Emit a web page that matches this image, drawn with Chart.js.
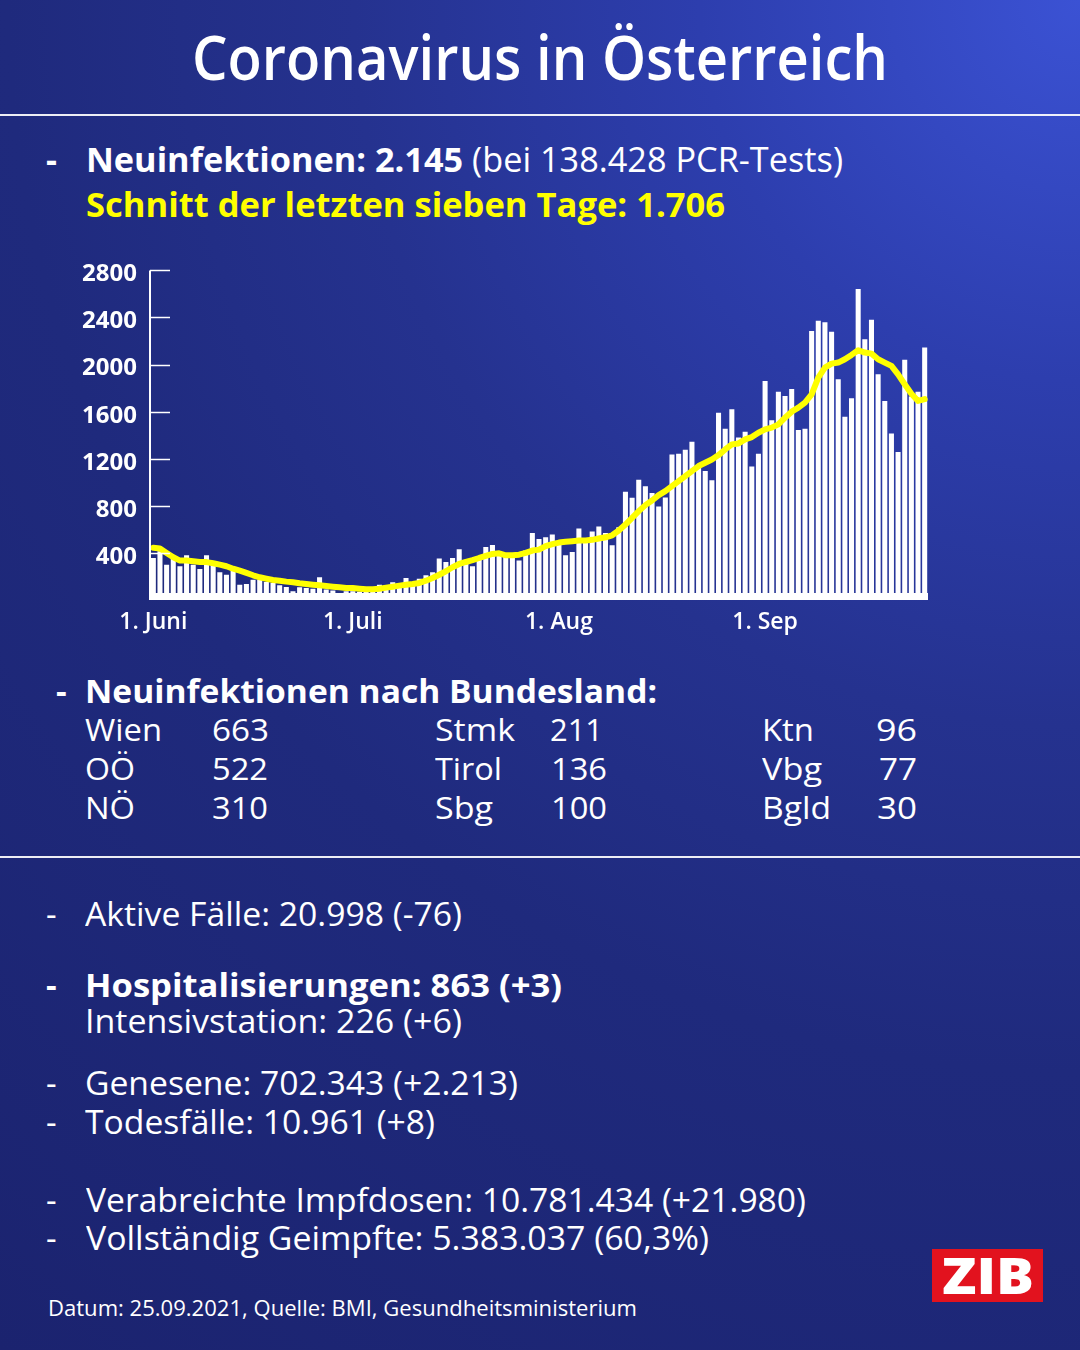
<!DOCTYPE html>
<html><head><meta charset="utf-8">
<script src="https://cdn.jsdelivr.net/npm/chart.js@4.4.1/dist/chart.umd.min.js"></script>
<style>
html,body{margin:0;padding:0;}
body{width:1080px;height:1350px;overflow:hidden;position:relative;
background:radial-gradient(circle farthest-corner at 100% 0%,#3b52d4 0%,#2d3eae 22%,#25328f 42%,#1f2a7d 62%,#1b236f 100%);
font-family:'Open Sans',sans-serif;color:#fff;}
.t{position:absolute;white-space:nowrap;transform-origin:0 0;line-height:1;}
.hr{position:absolute;left:0;width:1080px;height:2px;background:rgba(255,255,255,0.92);}
#chartBox{position:absolute;left:60px;top:243px;width:880px;height:397px;}
#zib{position:absolute;left:932px;top:1249px;width:111px;height:53px;background:#e2121e;}
</style></head>
<body>
<div class="hr" style="top:114px"></div>
<div class="hr" style="top:856px"></div>
<div id="chartBox"><canvas id="c" width="880" height="397"></canvas></div>
<div id="zib"></div>
<div id="texts"></div>
<script>
// ---- data ----
const monthNames = ['Juni','Juli','Aug','Sep'];
const monthDays = [30,31,31,25];
const tickLabels = ['1. Juni','1. Juli','1. Aug','1. Sep'];
const yTicks = [400,800,1200,1600,2000,2400,2800];
const newCases = [
 357,414,300,349,287,380,300,264,380,300,236,215,258,130,136,173,173,153,145,125,111,74,108,102,96,193,89,80,45,75,75,
 70,80,95,130,110,150,140,
 187,150,181,210,236,352,323,357,431,320,287,343,451,468,380,380,357,335,420,570,519,533,556,
 485,380,408,607,500,581,624,570,465,618,919,868,1021,967,908,794,870,1237,1242,1277,1345,1140,1095,1018,1591,1455,1620,1380,
 1430,1135,1242,1861,1526,1770,1733,1793,1444,1455,2286,2372,2360,2278,1875,1557,1713,2641,2215,2380,1917,1691,1415,1257,2040,1728,1770,2145
];
const avg7 = [
 443,437,400,363,335,335,329,323,322,312,300,287,266,249,230,210,193,181,170,164,156,150,142,136,130,125,119,113,108,102,102,
 96,91,91,96,105,113,122,130,136,145,164,187,215,244,278,306,323,338,357,374,391,397,380,380,385,400,420,428,457,475,488,495,
 500,505,505,511,522,533,550,590,641,698,755,806,845,891,925,968,1010,1053,1095,1138,1166,1194,1231,1279,1322,1330,
 1364,1384,1421,1449,1464,1492,1549,1600,1634,1677,1747,1889,1974,2008,2017,2045,2082,2122,2102,2093,2045,2017,1989,1917,1832,1753,1691,1706
];

// category labels (one per day)
const days = [];
monthNames.forEach((m,mi)=>{ for(let d=1; d<=monthDays[mi]; d++) days.push(d+'. '+m); });

const axisPlugin = {
  id:'axisDeco',
  beforeDatasetsDraw(chart){
    const {ctx, chartArea:a} = chart;
    ctx.save(); ctx.fillStyle='#ffffff';
    ctx.fillRect(a.left, a.bottom-7, a.right-a.left, 7);
    ctx.restore();
  },
  afterDraw(chart){
    const {ctx, chartArea:a, scales:{y}} = chart;
    ctx.save(); ctx.strokeStyle='#ffffff';
    ctx.lineWidth=2;
    ctx.beginPath(); ctx.moveTo(a.left, y.getPixelForValue(2800)); ctx.lineTo(a.left, a.bottom); ctx.stroke();
    ctx.lineWidth=1.5;
    yTicks.forEach(v=>{ const py=Math.round(y.getPixelForValue(v))+0.5; ctx.beginPath(); ctx.moveTo(a.left, py); ctx.lineTo(a.left+20, py); ctx.stroke(); });
    ctx.restore();
  }
};

function drawChart(){
new Chart(document.getElementById('c'), {
  data:{ labels: days, datasets:[
    {type:'line', data: avg7, borderColor:'#ffff00', borderWidth:6, pointRadius:0, tension:0, order:0, borderJoinStyle:'round', borderCapStyle:'round'},
    {type:'bar', data: newCases, backgroundColor:'#ffffff', barPercentage:0.76, categoryPercentage:1.0, order:1}
  ]},
  options:{
    responsive:false, animation:false,
    layout:{padding:{top:4,right:12,left:0,bottom:0}},
    plugins:{legend:{display:false}, tooltip:{enabled:false}},
    scales:{
      x:{ offset:true, grid:{display:false, drawTicks:false}, border:{display:false},
          ticks:{autoSkip:false, maxRotation:0, minRotation:0, color:'#ffffff', padding:9,
                 font:{family:'Open Sans', size:23, weight:'600'},
                 callback:(v,i)=>{ const lab=days[i]; return lab.startsWith('1. ') ? tickLabels[monthNames.indexOf(lab.slice(3))] : ''; }},
          afterFit:(s)=>{ s.height=40; } },
      y:{ min:0, max:2800, grid:{display:false, drawTicks:false}, border:{display:false},
          afterBuildTicks:(s)=>{ s.ticks = yTicks.map(v=>({value:v})); },
          ticks:{color:'#ffffff', padding:13, labelOffset:4, font:{family:'Open Sans', size:24, weight:'700'},
                 callback:(v)=>String(v)},
          afterFit:(s)=>{ s.width=90; } }
    }
  },
  plugins:[axisPlugin]
});
}

// ---- texts ----
const T = [
 {h:'Coronavirus in Österreich', x:192, b:80, s:62, w:600, tw:696},
 {h:'-', x:46, b:172, s:34, w:700},
 {h:'<b>Neuinfektionen: 2.145</b> (bei 138.428 PCR-Tests)', x:86, b:172, s:34, w:400, tw:757},
 {h:'<b>Schnitt der letzten sieben Tage: 1.706</b>', x:86, b:217, s:34, w:400, tw:639, c:'#ffff00'},
 {h:'-', x:56, b:703, s:33, w:700},
 {h:'<b>Neuinfektionen nach Bundesland:</b>', x:85, b:703, s:33, w:400, tw:572},
 {h:'Wien', x:85, b:742, s:31, w:400, tw:77}, {h:'663', x:212, b:742, s:31, w:400, tw:57},
 {h:'OÖ', x:85, b:781, s:31, w:400, tw:50}, {h:'522', x:212, b:781, s:31, w:400, tw:56},
 {h:'NÖ', x:85, b:820, s:31, w:400, tw:50}, {h:'310', x:212, b:820, s:31, w:400, tw:56},
 {h:'Stmk', x:435, b:742, s:31, w:400, tw:80}, {h:'211', x:550, b:742, s:31, w:400, tw:53},
 {h:'Tirol', x:435, b:781, s:31, w:400, tw:67}, {h:'136', x:551, b:781, s:31, w:400, tw:56},
 {h:'Sbg', x:435, b:820, s:31, w:400, tw:58}, {h:'100', x:551, b:820, s:31, w:400, tw:56},
 {h:'Ktn', x:762, b:742, s:31, w:400, tw:52}, {h:'96', x:876, b:742, s:31, w:400, tw:41},
 {h:'Vbg', x:762, b:781, s:31, w:400, tw:60}, {h:'77', x:879, b:781, s:31, w:400, tw:38},
 {h:'Bgld', x:762, b:820, s:31, w:400, tw:69}, {h:'30', x:877, b:820, s:31, w:400, tw:40},
 {h:'-', x:46, b:926, s:33, w:400},
 {h:'Aktive Fälle: 20.998 (-76)', x:85, b:926, s:33, w:400, tw:377},
 {h:'-', x:46, b:997, s:33, w:700},
 {h:'<b>Hospitalisierungen: 863 (+3)</b>', x:85, b:997, s:33, w:400, tw:477},
 {h:'Intensivstation: 226 (+6)', x:85, b:1033, s:33, w:400, tw:377},
 {h:'-', x:46, b:1095, s:33, w:400},
 {h:'Genesene: 702.343 (+2.213)', x:85, b:1095, s:33, w:400, tw:433},
 {h:'-', x:46, b:1134, s:33, w:400},
 {h:'Todesfälle: 10.961 (+8)', x:85, b:1134, s:33, w:400, tw:350},
 {h:'-', x:46, b:1212, s:33, w:400},
 {h:'Verabreichte Impfdosen: 10.781.434 (+21.980)', x:86, b:1212, s:33, w:400, tw:720},
 {h:'-', x:46, b:1250, s:33, w:400},
 {h:'Vollständig Geimpfte: 5.383.037 (60,3%)', x:86, b:1250, s:33, w:400, tw:623},
 {h:'Datum: 25.09.2021, Quelle: BMI, Gesundheitsministerium', x:48, b:1317, s:21, w:400, tw:589},
 {h:'ZIB', x:942, b:1294, s:50, w:800, tw:92}
];
const box = document.getElementById('texts');
const els = T.map(o=>{
  const d = document.createElement('div');
  d.className='t'; d.innerHTML=o.h;
  d.style.left=o.x+'px'; d.style.top=(o.b-0.888*o.s)+'px';
  d.style.fontSize=o.s+'px'; d.style.fontWeight=o.w; d.style.color=o.c||'#ffffff';
  d.querySelectorAll('b').forEach(b=>b.style.fontWeight='700');
  box.appendChild(d); return [d,o];
});
function fit(){
  els.forEach(([d,o])=>{ if(!o.tw) return; d.style.transform='none'; const w=d.getBoundingClientRect().width; d.style.transform='scaleX('+(o.tw/w)+')'; });
}
fit();
drawChart();
if (document.fonts && document.fonts.ready) document.fonts.ready.then(fit);
</script>
</body></html>
